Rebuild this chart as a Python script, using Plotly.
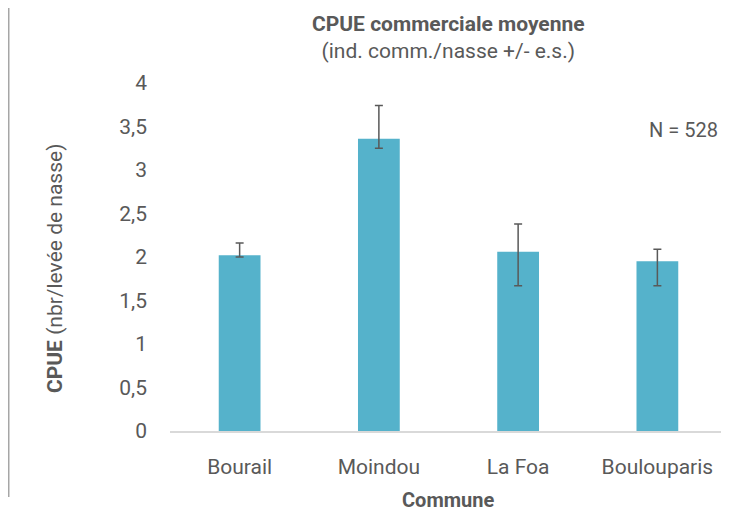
import plotly.graph_objects as go

communes = ["Bourail", "Moindou", "La Foa", "Boulouparis"]
cpue = [2.02, 3.36, 2.06, 1.95]
err_plus = [0.14, 0.38, 0.32, 0.14]
err_minus = [0.02, 0.11, 0.39, 0.28]
y_ticks = [0, 0.5, 1, 1.5, 2, 2.5, 3, 3.5, 4]
y_labels = ["0", "0,5", "1", "1,5", "2", "2,5", "3", "3,5", "4"]

grey = "#595959"
font = "Roboto, DejaVu Sans, sans-serif"

fig = go.Figure(go.Bar(
    x=communes,
    y=cpue,
    width=0.3,
    marker=dict(color="#55B2CB", line=dict(width=0)),
    error_y=dict(type="data", symmetric=False, array=err_plus, arrayminus=err_minus,
                 color=grey, thickness=1.5, width=4),
))

# page body adds an 8px offset, so the figure is a bit smaller than the window
fig.update_layout(
    width=721, height=504,
    margin=dict(l=162, r=2, t=75, b=81),
    paper_bgcolor="white", plot_bgcolor="white",
    font=dict(family=font, color=grey, size=21),
    showlegend=False,
    xaxis=dict(showgrid=False, showline=True, linecolor="#D9D9D9", linewidth=1.5,
               ticks="", ticklabelstandoff=16, tickfont=dict(size=21, color=grey)),
    yaxis=dict(range=[0, 4], tickvals=y_ticks, ticktext=y_labels, showgrid=False,
               zeroline=False, showline=False, ticks="", ticklabelstandoff=22,
               tickfont=dict(size=21, color=grey)),
    annotations=[
        dict(text="<b>CPUE commerciale moyenne</b><br>(ind. comm./nasse +/- e.s.)",
             xref="paper", yref="paper", x=0.5, y=1.0, yshift=73,
             showarrow=False, yanchor="top", font=dict(size=21, color=grey)),
        dict(text="<b>CPUE</b> (nbr/levée de nasse)", textangle=-90,
             xref="paper", yref="paper", x=0, xshift=-115, y=0.5, yshift=-12,
             xanchor="center", showarrow=False, font=dict(size=21, color=grey)),
        dict(text="<b>Commune</b>", xref="paper", yref="paper", x=0.5, xshift=-1,
             y=0, yshift=-69, showarrow=False, yanchor="middle",
             font=dict(size=20, color=grey)),
        dict(text="N = 528", xref="paper", yref="paper", x=1, xshift=-7, y=0.905,
             xanchor="right", showarrow=False, font=dict(size=20, color=grey)),
    ],
    shapes=[dict(type="line", xref="paper", yref="paper", x0=-0.2895, x1=-0.2895,
                 y0=-0.19, y1=1.22, line=dict(color="#A6A6A6", width=1.5))],
)

fig.write_html("out.html")
